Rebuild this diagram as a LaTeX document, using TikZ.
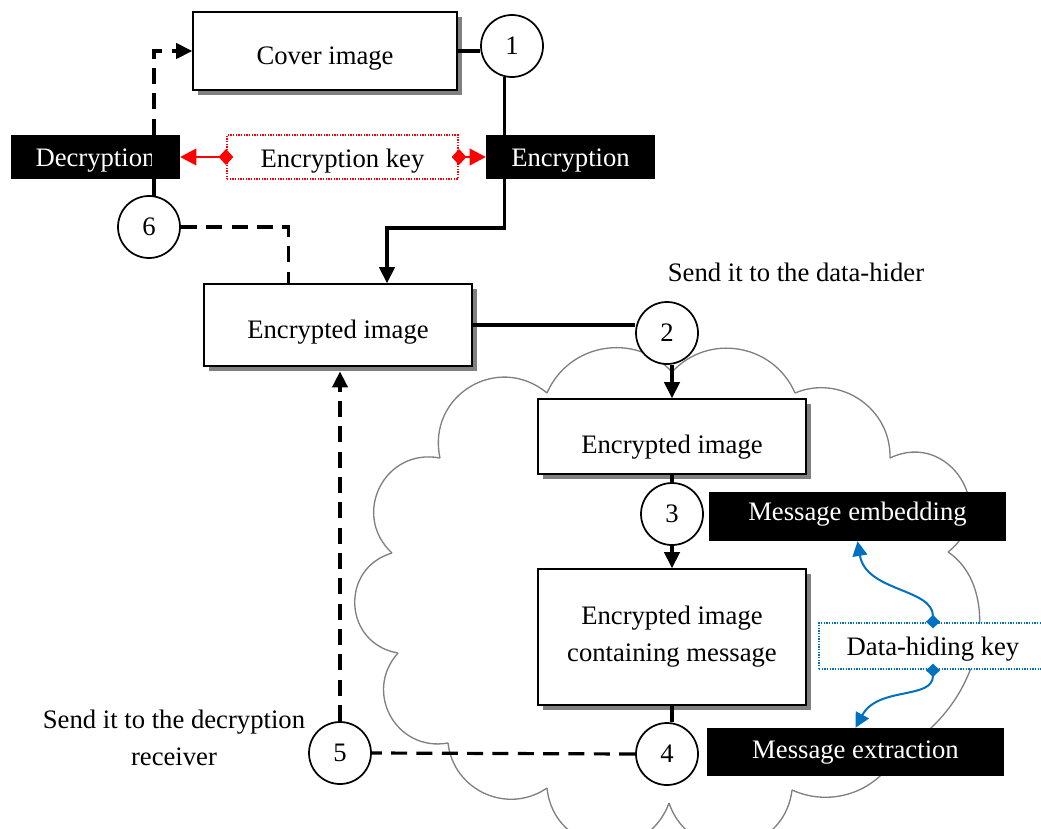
\documentclass[tikz,border=0pt]{standalone}
\usepackage{fontspec}
\setmainfont{Liberation Serif}
\usetikzlibrary{arrows.meta,calc,shadows}
\definecolor{keyred}{RGB}{255,0,0}
\definecolor{keyblue}{RGB}{0,112,192}
\definecolor{cloudgray}{RGB}{128,128,128}
\begin{document}
\begin{tikzpicture}[x=0.75pt,y=-0.75pt,
  every node/.style={font=\fontsize{20}{27.75}\selectfont, inner sep=0pt},
  wbox/.style={draw=black, line width=1.2pt, fill=white, align=center,
    drop shadow={shadow xshift=3.75pt,shadow yshift=-3.5pt,fill=gray,opacity=1}},
  bbox/.style={fill=black, text=white},
  keybox/.style={draw=#1, fill=white, line width=1pt, densely dotted},
  bl/.style={text height=#1, text depth=0pt},
  num/.style={circle, draw=black, line width=1.3pt, fill=white, minimum size=46.5pt},
  conn/.style={line width=2.4pt},
  dconn/.style={line width=2.4pt, dash pattern=on 12pt off 7pt},
  tipb/.style={-{Triangle[length=12pt,width=11.5pt]}},
  redarr/.style={keyred, line width=1.3pt, {Diamond[length=11pt,width=12pt]}-{Triangle[length=12pt,width=12.5pt]}},
  bluearr/.style={keyblue, line width=1.5pt, {Diamond[length=10pt,width=10.5pt]}-{Triangle[length=11pt,width=11pt]}},
  cloudline/.style={draw=cloudgray, line width=1pt}
]
\useasboundingbox (0,0) rectangle (1041,828);
\clip (0,0) rectangle (1041,828);

% cloud
\coordinate (P0) at (672,372);
\coordinate (P1) at (795,393);
\coordinate (P2) at (890,458);
\coordinate (P3) at (948,552);
\coordinate (P4) at (898,752);
\coordinate (P5) at (792,790);
\coordinate (P6) at (669,803);
\coordinate (P7) at (547,788);
\coordinate (P8) at (448,743);
\coordinate (P9) at (398,653);
\coordinate (P10) at (392,553);
\coordinate (P11) at (440,458);
\coordinate (P12) at (547,393);
\foreach \a/\b/\t/\L in {P0/P1/57/0.43, P1/P2/57/0.43, P2/P3/84/0.60, P4/P5/44/0.39,
    P5/P6/77/0.55, P6/P7/77/0.55, P7/P8/59/0.44, P8/P9/71/0.51, P9/P10/77/0.55,
    P10/P11/74/0.53, P11/P12/71/0.51, P12/P0/57/0.43}
  \draw[cloudline] (\a) .. controls ($(\a)!\L!\t:(\b)$) and ($(\b)!\L!-\t:(\a)$) .. (\b);
\draw[cloudline] (P3) .. controls (1002,588) and (988,702) .. (P4);

% boxes
\node[wbox, minimum width=198pt, minimum height=58.5pt, bl=19.5pt] (cover) at (325,51) {Cover image};
\node[wbox, minimum width=201pt, minimum height=61.5pt, bl=19.5pt] (encimg) at (338,325) {Encrypted image};
\node[wbox, minimum width=201pt, minimum height=56.25pt, bl=24.75pt] (box2) at (672,436.5) {Encrypted image};
\node[wbox, minimum width=201pt, minimum height=102pt] (box3) at (672,637) {Encrypted image\\containing message};
\node[bbox, minimum width=126.75pt, minimum height=33pt, bl=13.5pt] (dec) at (95.5,157) {Decryption};
\node[bbox, minimum width=126.75pt, minimum height=33pt, bl=13.5pt] (enc) at (570.5,157) {Encryption};
\node[keybox=keyred, minimum width=173.25pt, minimum height=33pt, bl=15pt] (enckey) at (342.5,157) {Encryption key};
\node[bbox, minimum width=222.75pt, minimum height=36.75pt, bl=6pt] (memb) at (857.5,516.5) {Message embedding};
\node[bbox, minimum width=222.75pt, minimum height=36pt, bl=9pt] (mext) at (855.5,752) {Message extraction};
\node[keybox=keyblue, minimum width=171pt, minimum height=34.5pt, bl=13.5pt] (dhk) at (933,646) {Data-hiding key};

% numbered circles
\node[num] (c1) at (512,46) {1};
\node[num] (c2) at (667,333) {2};
\node[num] (c3) at (672,514) {3};
\node[num] (c4) at (667,754) {4};
\node[num] (c5) at (340,753) {5};
\node[num] (c6) at (149,227) {6};

% labels
\node (lhider) at (796,272) {Send it to the data-hider};
\node[align=center] (lrecv) at (174,738) {Send it to the decryption\\receiver};

% connectors
\draw[conn] (cover.east) -- (c1.west |- cover.east);
\coordinate (k1) at (387,228);
\draw[conn, tipb] (c1.257) |- (k1) -- (k1 |- encimg.north);
\draw[conn] (c6.81) -- (c6.81 |- dec.north);
\draw[dconn, tipb] (c6.81 |- dec.north) |- (cover.west);
\draw[dconn] (c6.east) -| ($(encimg.north west)+(85,0)$);
\draw[conn] (encimg.east) -- (c2.west |- encimg.east);
\draw[conn, tipb] (c2.south -| box2.north) -- (box2.north);
\draw[conn] (box2.south) -- (c3.north);
\draw[conn, tipb] (c3.south) -- (box3.north);
\draw[conn] (box3.south) -- (box3.south |- c4.north);
\draw[dconn] (c4.west) -- (c5.east);
\draw[dconn, tipb, shorten >=3.5pt] (c5.north) -- (c5.north |- encimg.south);

\draw[redarr] ($(enckey.west)+(7,0)$) -- (dec.east);
\draw[redarr] ($(enckey.east)+(-7,0)$) -- (enc.west);

\draw[bluearr] ($(dhk.north)+(0,6)$) .. controls (933,588) and (866,592) .. (memb.south);
\draw[bluearr] ($(dhk.south)+(0,-6)$) .. controls (933,700) and (878,686) .. (mext.north);
\end{tikzpicture}
\end{document}
